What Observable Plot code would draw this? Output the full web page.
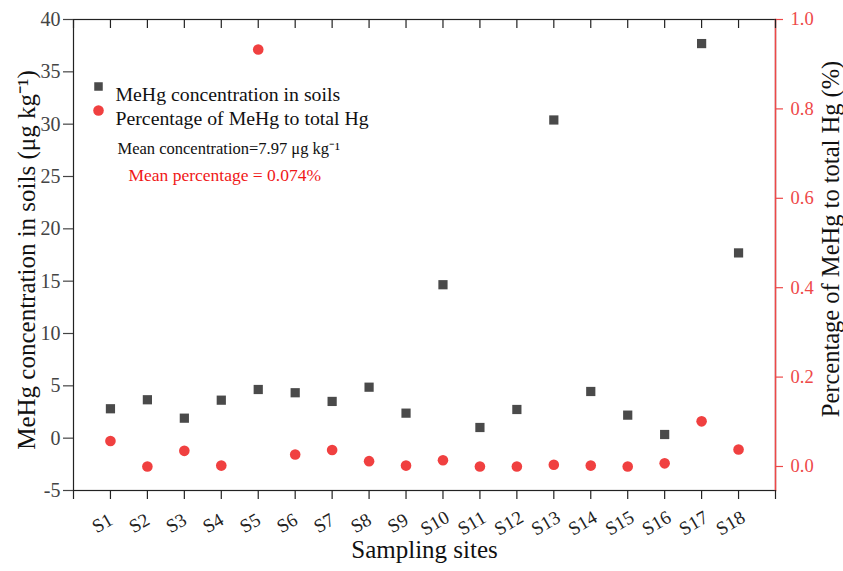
<!DOCTYPE html>
<html><head><meta charset="utf-8">
<script src="https://cdn.jsdelivr.net/npm/d3@7"></script>
<script src="https://cdn.jsdelivr.net/npm/@observablehq/plot@0.6"></script>
<style>body{margin:0;background:#fff} svg{display:block}</style>
</head><body><div id="chart"></div>
<script>
const sites = ["S1","S2","S3","S4","S5","S6","S7","S8","S9","S10","S11","S12","S13","S14","S15","S16","S17","S18"];
const concentration = [2.81,3.67,1.91,3.63,4.65,4.34,3.51,4.87,2.39,14.66,1.02,2.74,30.4,4.46,2.2,0.35,37.7,17.7];
const percentage = [0.057,0.0,0.035,0.002,0.933,0.027,0.037,0.012,0.002,0.014,0.0,0.0,0.004,0.002,0.0,0.007,0.101,0.038];
const leftTicks = [-5,0,5,10,15,20,25,30,35,40];
const rightTicks = [0.0,0.2,0.4,0.6,0.8,1.0];
const leftDomain = [-5, 40];
const rightDomain = [-0.0537, 1.0];
const legendLabels = ["MeHg concentration in soils", "Percentage of MeHg to total Hg"];
const meanConcText = "Mean concentration=7.97 \u03bcg kg\u207b\u00b9";
const meanPctText = "Mean percentage = 0.074%";

const toLeft = p => leftDomain[0] + (p - rightDomain[0]) / (rightDomain[1] - rightDomain[0]) * (leftDomain[1] - leftDomain[0]);
const fromLeft = v => rightDomain[0] + (v - leftDomain[0]) / (leftDomain[1] - leftDomain[0]) * (rightDomain[1] - rightDomain[0]);

const data = sites.map((s, i) => ({site: s, conc: concentration[i], pct: percentage[i]}));
const xDomain = ["", ...sites, " "];
const H = 571, mt = 19, mb = 81;
const plotH = H - mt - mb;
const font = "Liberation Serif, Times New Roman, serif";
const gray = "#4a4a4a", red = "#f04040", axisRed = "#ee4848";

const chart = Plot.plot({
  width: 843, height: H,
  marginLeft: 73, marginRight: 68, marginTop: mt, marginBottom: mb,
  style: {fontFamily: font, background: "white", overflow: "visible"},
  x: {type: "point", domain: xDomain, padding: 0, round: false, axis: null},
  y: {domain: leftDomain, axis: null},
  marks: [
    Plot.frame({stroke: "#222", strokeWidth: 1.2}),
    Plot.frame({anchor: "right", stroke: axisRed, strokeWidth: 1.5}),
    Plot.tickX(xDomain, {x: d => d, insetBottom: plotH - 9, stroke: "#222", strokeWidth: 1.2}),
    Plot.axisX(xDomain, {anchor: "bottom", label: null, tickSize: 9, tickFormat: () => "", stroke: "#222", strokeWidth: 1.2}),
    Plot.axisY(leftTicks, {anchor: "left", label: null, tickSize: 10, tickPadding: 3, fontSize: 20, color: "#444", strokeWidth: 1.2,
      tickFormat: d => String(d)}),
    Plot.axisY(rightTicks.map(toLeft), {anchor: "right", label: null, tickSize: 7, tickPadding: 8, fontSize: 18.5, color: axisRed, strokeWidth: 1.2,
      tickFormat: d => Math.abs(Math.round(fromLeft(d) * 10) / 10).toFixed(1)}),
    Plot.text(sites, {x: d => d, frameAnchor: "bottom", dy: 38, dx: -5, rotate: -30, fontSize: 19, fill: "#222"}),
    Plot.text(["Sampling sites"], {frameAnchor: "bottom", dy: 67, fontSize: 25, fill: "#111"}),
    Plot.text(["MeHg concentration in soils (\u03bcg kg\u207b\u00b9)"], {frameAnchor: "left", textAnchor: "middle", dx: -47, dy: 5, rotate: -90, fontSize: 25, fill: "#111"}),
    Plot.text(["Percentage of MeHg to total Hg (%)"], {frameAnchor: "right", textAnchor: "middle", dx: 56, dy: -16, rotate: -90, fontSize: 24.5, fill: "#111"}),
    Plot.dot(data, {x: "site", y: "conc", symbol: "square", r: 5.2, fill: gray}),
    Plot.dot(data, {x: "site", y: d => toLeft(d.pct), r: 5.3, fill: red}),
    Plot.dot([0], {frameAnchor: "top-left", dx: 25, dy: 67, symbol: "square", r: 4.8, fill: gray}),
    Plot.dot([0], {frameAnchor: "top-left", dx: 25, dy: 91, r: 5.3, fill: red}),
    Plot.text([legendLabels[0]], {frameAnchor: "top-left", dx: 42, dy: 67, textAnchor: "start", fontSize: 19.8, fill: "#111"}),
    Plot.text([legendLabels[1]], {frameAnchor: "top-left", dx: 42, dy: 91, textAnchor: "start", fontSize: 19.8, fill: "#111"}),
    Plot.text([meanConcText], {frameAnchor: "top-left", dx: 44, dy: 123, textAnchor: "start", fontSize: 16.5, fill: "#111"}),
    Plot.text([meanPctText], {frameAnchor: "top-left", dx: 55, dy: 149, textAnchor: "start", fontSize: 17.5, fill: "#f01818"})
  ]
});
document.getElementById("chart").appendChild(chart);
</script>
</body></html>
